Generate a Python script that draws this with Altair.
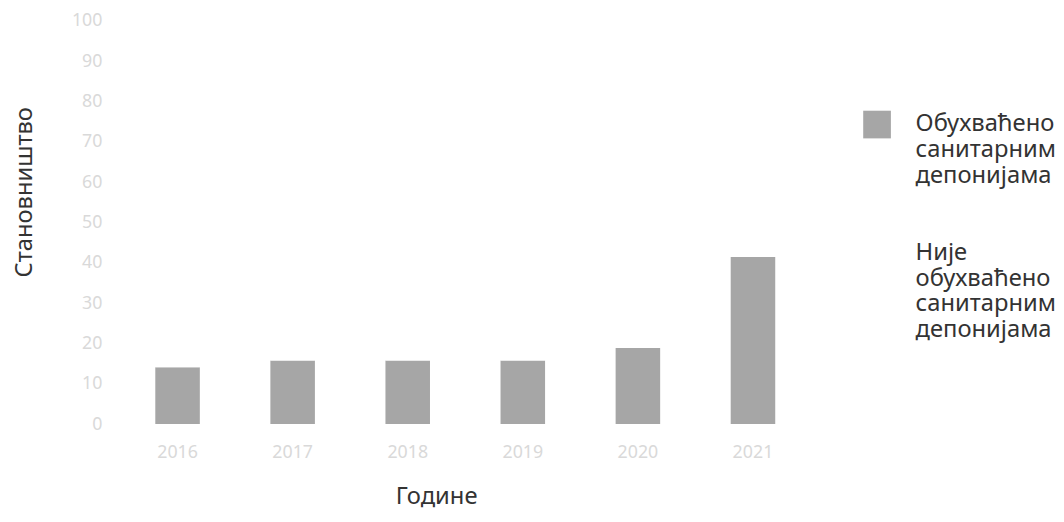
import altair as alt
import pandas as pd

years = ["2016", "2017", "2018", "2019", "2020", "2021"]
covered = [14.1, 15.8, 15.8, 15.8, 18.9, 41.4]
not_covered = [85.9, 84.2, 84.2, 84.2, 81.1, 58.6]
series = ["Обухваћено санитарним депонијама", "Није обухваћено санитарним депонијама"]
y_ticks = [0, 10, 20, 30, 40, 50, 60, 70, 80, 90, 100]
colors = ["#a6a6a6", "#ffffff"]

rows = []
for i, yr in enumerate(years):
    rows.append({"year": yr, "series": series[0], "value": covered[i], "k": 0})
    rows.append({"year": yr, "series": series[1], "value": not_covered[i], "k": 1})
df = pd.DataFrame(rows)

FONT = "Noto Sans"

chart = alt.Chart(df).mark_bar().encode(
    x=alt.X("year:O", sort=years,
            scale=alt.Scale(paddingInner=0.613, paddingOuter=0.395),
            axis=alt.Axis(title="Године", labelAngle=0, domain=False, ticks=False,
                          labelPadding=20, labelFontSize=18, labelColor="#d9d9d9",
                          titleFontSize=24, titleFontWeight="normal", titleColor="#333333",
                          titlePadding=23, titleX=330, labelFont=FONT, titleFont=FONT)),
    y=alt.Y("value:Q", stack="zero",
            scale=alt.Scale(domain=[0, 100], nice=False),
            axis=alt.Axis(title="Становништво", values=y_ticks, domain=False, ticks=False,
                          grid=False, labelPadding=8, labelFontSize=18, labelColor="#d9d9d9",
                          titleFontSize=24, titleFontWeight="normal", titleColor="#333333",
                          titlePadding=35, titleY=173, labelFont=FONT, titleFont=FONT)),
    color=alt.Color("series:N",
                    scale=alt.Scale(domain=series, range=colors),
                    legend=alt.Legend(title=None, orient="none", legendX=762, legendY=91,
                                      symbolType="square", symbolSize=784,
                                      symbolStrokeWidth=0, labelOffset=25,
                                      labelFontSize=24, labelFont=FONT, labelColor="#333333",
                                      labelLimit=400, rowPadding=52,
                                      labelExpr="split(datum.label, ' ')")),
    order=alt.Order("k:Q", sort="ascending"),
).properties(
    width=719, height=408,
    padding={"left": 5, "top": 1, "right": 0, "bottom": 0},
).configure_view(
    stroke="transparent"
)

chart.save("out.html", embed_options={"renderer": "svg", "actions": False})
